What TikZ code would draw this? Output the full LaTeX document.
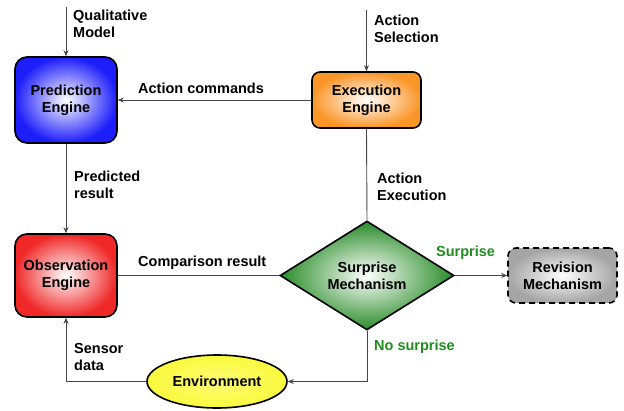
\documentclass[tikz,border=0pt]{standalone}
\usepackage{fontspec}
\setmainfont{Liberation Sans}
\usetikzlibrary{shapes.geometric,arrows.meta}
\definecolor{cblue}{RGB}{30,30,250}
\definecolor{corange}{RGB}{250,150,40}
\definecolor{cred}{RGB}{240,40,40}
\definecolor{cgreen}{RGB}{40,140,40}
\definecolor{cgray}{RGB}{165,165,165}
\definecolor{cyellow}{RGB}{250,250,60}
\definecolor{lgreen}{RGB}{30,140,30}
\definecolor{lineg}{RGB}{70,70,70}
\begin{document}
\begin{tikzpicture}[x=1pt,y=-1pt,
  every node/.style={font=\fontsize{14.5}{17}\selectfont\bfseries},
  box/.style={draw=black,line width=1.6pt,rounded corners=12pt,align=center,inner sep=0pt,shading=radial,inner color=white},
  lbl/.style={anchor=west,align=left,inner sep=0pt},
  conn/.style={draw=lineg,line width=0.9pt},
  arr/.style={conn,-{Stealth[length=6pt,width=5pt]}}]
\useasboundingbox (0,0) rectangle (624,410);
\node[box,outer color=cblue,minimum width=102pt,minimum height=86pt] (pred) at (66,100) {Prediction\\Engine};
\node[box,outer color=cred,minimum width=102pt,minimum height=83pt] (obs) at (66,275.5) {Observation\\Engine};
\node[box,outer color=corange,rounded corners=8pt,minimum width=109pt,minimum height=56pt] (exec) at (366.5,100) {Execution\\Engine};
\node[box,outer color=cgray,rounded corners=8pt,dashed,dash pattern=on 6pt off 4pt,minimum width=109pt,minimum height=55pt] (rev) at (562.5,275.5) {Revision\\Mechanism};
\node[diamond,draw=black,line width=1.6pt,align=center,inner sep=0pt,shading=radial,inner color=white,outer color=cgreen,minimum width=174pt,minimum height=109pt] (sur) at (367,275.5) {Surprise\\Mechanism};
\node[ellipse,draw=black,line width=1.6pt,inner sep=0pt,shading=radial,inner color=white!30!cyellow,outer color=cyellow,minimum width=140pt,minimum height=53pt] (env) at (217,381.5) {Environment};
\coordinate (qtop) at (66,7);
\coordinate (stop) at (366.5,10);
\coordinate (envc) at (367,381.5);
\coordinate (senc) at (66,381.5);
\draw[arr] (qtop) -- (pred.north);
\draw[arr] (stop) -- (exec.north);
\draw[arr] (exec.west) -- (pred.east);
\draw[arr] (pred.south) -- (obs.north);
\draw[conn] (exec.south) -- (sur.north);
\draw[conn] (obs.east) -- (sur.west);
\draw[arr] (sur.east) -- (rev.west);
\draw[arr] (sur.south) -- (envc) -- (env.east);
\draw[arr] (env.west) -- (senc) -- (obs.south);
\node[lbl] (l1) at (73,24) {Qualitative\\Model};
\node[lbl] (l2) at (374,29) {Action\\Selection};
\node[lbl] (l3) at (138,88) {Action commands};
\node[lbl] (l4) at (74,185) {Predicted\\result};
\node[lbl] (l5) at (377,187) {Action\\Execution};
\node[lbl] (l6) at (138,263) {Comparison result};
\node[lbl,text=lgreen] (l7) at (436,253) {Surprise};
\node[lbl,text=lgreen] (l8) at (374,347) {No surprise};
\node[lbl] (l9) at (74,357) {Sensor\\data};
\end{tikzpicture}
\end{document}
